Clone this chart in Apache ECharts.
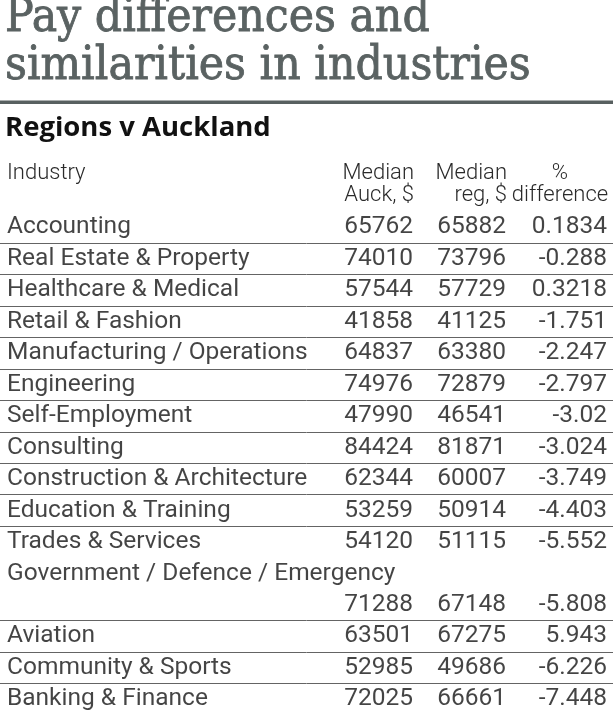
<!DOCTYPE html>
<html>
<head>
<meta charset="utf-8">
<script src="https://cdn.jsdelivr.net/npm/echarts@6/dist/echarts.min.js"></script>
<style>
html, body { margin: 0; padding: 0; background: #fff; }
#main { width: 613px; height: 715px; }
</style>
</head>
<body>
<div id="main"></div>
<script>
var industries = [
    'Accounting', 'Real Estate & Property', 'Healthcare & Medical', 'Retail & Fashion',
    'Manufacturing / Operations', 'Engineering', 'Self-Employment', 'Consulting',
    'Construction & Architecture', 'Education & Training', 'Trades & Services',
    'Government / Defence / Emergency', 'Aviation', 'Community & Sports', 'Banking & Finance'
];
var auckMedian = [65762, 74010, 57544, 41858, 64837, 74976, 47990, 84424, 62344, 53259, 54120, 71288, 63501, 52985, 72025];
var regMedian  = [65882, 73796, 57729, 41125, 63380, 72879, 46541, 81871, 60007, 50914, 51115, 67148, 67275, 49686, 66661];
var pctDiff    = [0.1834, -0.288, 0.3218, -1.751, -2.247, -2.797, -3.02, -3.024, -3.749, -4.403, -5.552, -5.808, 5.943, -6.226, -7.448];
var wrappedRows = ['Government / Defence / Emergency'];

// a table row takes one slot on the y axis, a wrapped row two (name, then figures)
var slots = [], nameSlot = [], valueSlot = [];
industries.forEach(function (name) {
    nameSlot.push(slots.length);
    slots.push(name);
    if (wrappedRows.indexOf(name) >= 0) slots.push(name + ' ');
    valueSlot.push(slots.length - 1);
});

var bodyFont = 'Roboto';
var rowH = 31.5;

function textColumn(x, values, slotIdx, align) {
    return {
        type: 'scatter',
        symbolSize: 0,
        silent: true,
        data: values.map(function (v, i) { return [x, slotIdx[i]]; }),
        label: {
            show: true,
            position: 'inside',
            align: align,
            verticalAlign: 'middle',
            fontFamily: bodyFont,
            fontSize: 24.5,
            color: '#151515',
            formatter: function (p) { return String(values[p.dataIndex]); }
        }
    };
}

function head(text, left, align, top) {
    return {
        text: text, left: left, top: top, padding: 0,
        textAlign: align, textVerticalAlign: 'top',
        textStyle: { fontFamily: bodyFont, fontWeight: 300, fontSize: 22, lineHeight: 22, color: '#2a2a2a' }
    };
}

var chart = echarts.init(document.getElementById('main'));
chart.setOption({
    backgroundColor: '#fff',
    animation: false,
    title: [
        {
            text: 'Pay differences and\nsimilarities in industries',
            left: 5, top: -5, padding: 0,
            textStyle: {
                fontFamily: 'DejaVu Serif Condensed', fontWeight: 'normal', fontSize: 47.5, lineHeight: 48,
                color: '#5a6262', textBorderColor: '#5a6262', textBorderWidth: 0.8
            }
        },
        {
            text: 'Regions v Auckland',
            left: 5, top: 114, padding: 0,
            textStyle: { fontFamily: 'Open Sans', fontWeight: 'bold', fontSize: 27.5, color: '#111' }
        },
        head('Industry', 7, 'left', 162),
        head('Median\nAuck, $', 414, 'right', 162),
        head('Median\nreg, $', 507, 'right', 162),
        head('%\ndifference', 560, 'center', 162)
    ],
    graphic: [
        { type: 'rect', shape: { x: 0, y: 100.5, width: 613, height: 3.5 }, style: { fill: '#586060' } }
    ],
    grid: { left: 0, right: 0, top: 211.5, height: rowH * slots.length },
    xAxis: { type: 'value', min: 0, max: 613, show: false },
    yAxis: {
        type: 'category',
        data: slots,
        inverse: true,
        axisLine: { show: false },
        axisTick: { show: false },
        axisLabel: { show: false },
        splitLine: {
            show: true,
            interval: function (index) {
                return index > 0 && valueSlot.indexOf(index) >= 0 && nameSlot.indexOf(index) >= 0;
            },
            lineStyle: { color: '#646464', width: 1 }
        }
    },
    series: [
        textColumn(7, industries, nameSlot, 'left'),
        textColumn(413, auckMedian, valueSlot, 'right'),
        textColumn(506, regMedian, valueSlot, 'right'),
        textColumn(607, pctDiff, valueSlot, 'right')
    ]
});
</script>
</body>
</html>
